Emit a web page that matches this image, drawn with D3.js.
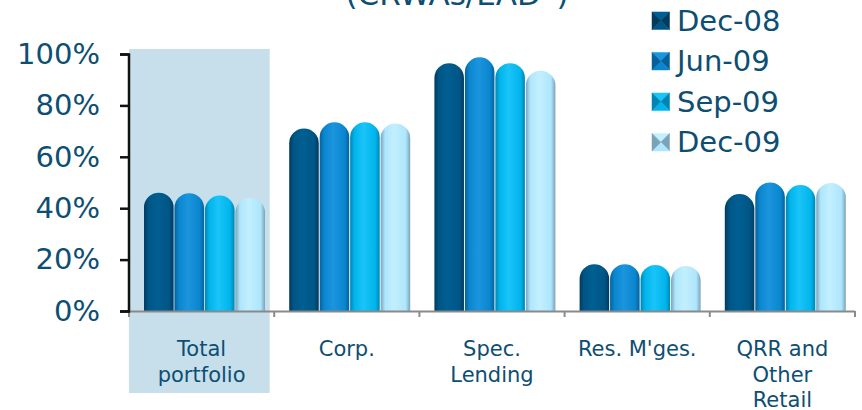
<!DOCTYPE html>
<html>
<head>
<meta charset="utf-8">
<script src="https://cdn.jsdelivr.net/npm/d3@7"></script>
<style>
  html, body { margin: 0; padding: 0; background: #ffffff; }
  svg { display: block; font-family: "DejaVu Sans", Verdana, sans-serif; }
</style>
</head>
<body>
<svg id="chart" width="862" height="410"></svg>
<script>
const categories = ["Total portfolio", "Corp.", "Spec. Lending", "Res. M'ges.", "QRR and Other Retail"];
const categoryLines = [["Total", "portfolio"], ["Corp."], ["Spec.", "Lending"], ["Res. M'ges."], ["QRR and", "Other", "Retail"]];
const series = ["Dec-08", "Jun-09", "Sep-09", "Dec-09"];
const dec08 = [0.46, 0.71, 0.964, 0.182, 0.455];
const jun09 = [0.458, 0.734, 0.987, 0.182, 0.50];
const sep09 = [0.449, 0.734, 0.964, 0.179, 0.49];
const dec09 = [0.44, 0.73, 0.935, 0.175, 0.498];
const seriesValues = [dec08, jun09, sep09, dec09];
const yTicks = [0, 0.2, 0.4, 0.6, 0.8, 1.0];
const titleText = "(CRWAs/EAD*)";

const colors = {
  "Dec-08": { base: "#005585", edge: "#003b5f", light: "#005f92" },
  "Jun-09": { base: "#0a86cf", edge: "#06619a", light: "#1b95dd" },
  "Sep-09": { base: "#00b5ec", edge: "#0085b3", light: "#1ac4f8" },
  "Dec-09": { base: "#aee6fc", edge: "#7aa3ba", light: "#c2effe" }
};
const textColor = "#0d4e73";

const svg = d3.select("#chart");
const defs = svg.append("defs");
series.forEach((s, i) => {
  const c = colors[s];
  const g = defs.append("linearGradient").attr("id", "grad" + i)
    .attr("x1", "0%").attr("x2", "100%").attr("y1", "0%").attr("y2", "0%");
  g.append("stop").attr("offset", "0%").attr("stop-color", c.edge);
  g.append("stop").attr("offset", "15%").attr("stop-color", c.base);
  g.append("stop").attr("offset", "45%").attr("stop-color", c.light);
  g.append("stop").attr("offset", "85%").attr("stop-color", c.base);
  g.append("stop").attr("offset", "100%").attr("stop-color", c.edge);
});

const x0 = d3.scaleBand().domain(categories).range([129, 855]).padding(0);
const x1 = d3.scaleBand().domain(series).range([15, 136]).paddingInner(0.03);
const y = d3.scaleLinear().domain([0, 1]).range([311, 54]);

// highlight background for first category
svg.append("rect")
  .attr("x", x0(categories[0]))
  .attr("y", 49)
  .attr("width", x0.bandwidth() - 4.5)
  .attr("height", 344)
  .attr("fill", "#c6dfea");

// title (cropped at top, as in the reference)
svg.append("text")
  .attr("x", 457).attr("y", 5)
  .attr("text-anchor", "middle")
  .attr("font-size", 31)
  .attr("fill", textColor)
  .text(titleText);

// bars
function barPath(x, w, yTop, yBase) {
  const r = w / 2;
  const h = yBase - yTop;
  const ry = Math.min(r, h);
  return `M${x},${yBase} L${x},${yTop + ry} A${r},${ry} 0 0 1 ${x + w},${yTop + ry} L${x + w},${yBase} Z`;
}
categories.forEach((cat, ci) => {
  const g = svg.append("g").attr("transform", `translate(${x0(cat)},0)`);
  series.forEach((s, si) => {
    const v = seriesValues[si][ci];
    g.append("path")
      .attr("d", barPath(x1(s), x1.bandwidth(), y(v), y(0)))
      .attr("fill", `url(#grad${si})`);
  });
});

// x axis (gray)
const xAxisG = svg.append("g");
xAxisG.append("line").attr("x1", 129).attr("x2", 855).attr("y1", 311.5).attr("y2", 311.5)
  .attr("stroke", "#8a8a8a").attr("stroke-width", 2);
const bounds = categories.map(c => x0(c)).concat([x0(categories[categories.length - 1]) + x0.bandwidth()]);
bounds.forEach(b => {
  xAxisG.append("line").attr("x1", b).attr("x2", b).attr("y1", 311).attr("y2", 317)
    .attr("stroke", "#8a8a8a").attr("stroke-width", 2);
});

// category labels
categories.forEach((cat, ci) => {
  const t = svg.append("text")
    .attr("x", x0(cat) + x0.bandwidth() / 2)
    .attr("y", 356)
    .attr("text-anchor", "middle")
    .attr("font-size", 21)
    .attr("fill", textColor);
  categoryLines[ci].forEach((ln, li) => {
    t.append("tspan").attr("x", x0(cat) + x0.bandwidth() / 2).attr("dy", li === 0 ? 0 : 25.5).text(ln);
  });
});

// y axis
const yAxis = d3.axisLeft(y).tickValues(yTicks).tickFormat(d3.format(".0%")).tickSize(9).tickPadding(20);
const yG = svg.append("g").attr("transform", "translate(129,0)").call(yAxis);
yG.select(".domain").attr("stroke", "#111").attr("stroke-width", 2.5).attr("d", "M-9,54.5H0V311.5H-9");
yG.selectAll(".tick line").attr("stroke", "#111").attr("stroke-width", 2.5);
yG.selectAll(".tick text").attr("fill", textColor).attr("font-size", 29)
  .attr("font-family", "DejaVu Sans, Verdana, sans-serif");

// legend
const legend = svg.append("g");
series.forEach((s, i) => {
  const cy = 20.7 + i * 40.5;
  const lx = 652, sz = 17.5;
  const top = cy - sz / 2;
  const c = colors[s];
  const gg = legend.append("g");
  const cx = lx + sz / 2, cyy = top + sz / 2;
  const tri = [
    [[lx, top], [lx + sz, top], [cx, cyy], c.light],
    [[lx + sz, top], [lx + sz, top + sz], [cx, cyy], c.edge],
    [[lx, top + sz], [lx + sz, top + sz], [cx, cyy], c.base],
    [[lx, top], [lx, top + sz], [cx, cyy], c.edge]
  ];
  tri.forEach(t => {
    gg.append("path").attr("d", `M${t[0][0]},${t[0][1]}L${t[1][0]},${t[1][1]}L${t[2][0]},${t[2][1]}Z`)
      .attr("fill", t[3]).attr("stroke", t[3]).attr("stroke-width", 0.5);
  });
  legend.append("text").attr("x", 677).attr("y", cy).attr("dy", "0.35em")
    .attr("font-size", 29).attr("fill", textColor).text(s);
});
</script>
</body>
</html>
